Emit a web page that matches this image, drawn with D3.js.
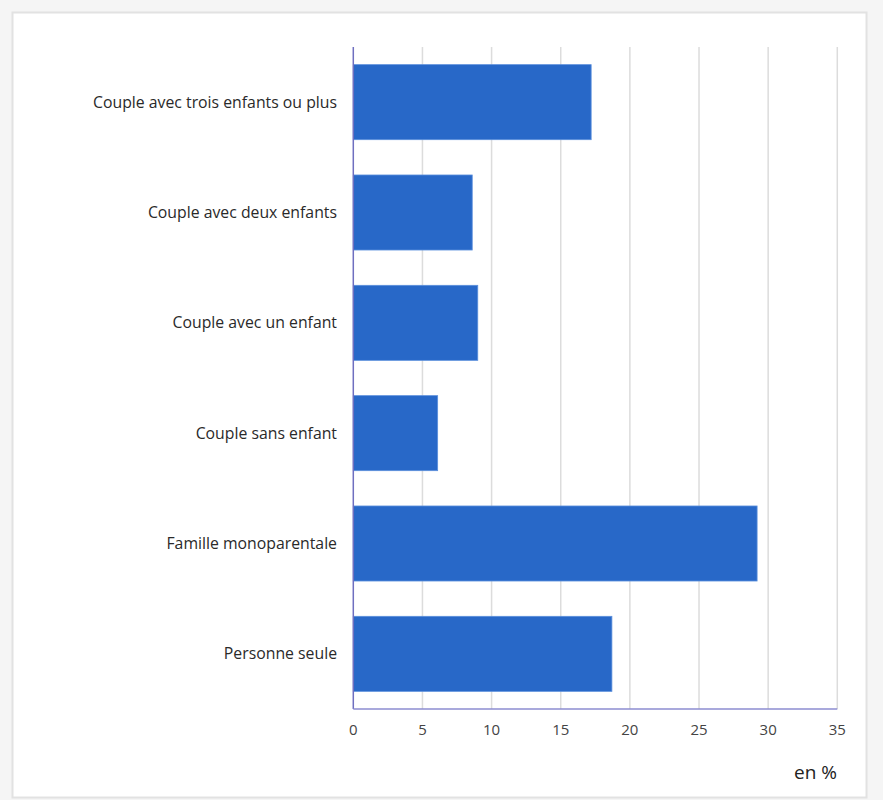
<!DOCTYPE html>
<html>
<head>
<meta charset="utf-8">
<script src="https://cdn.jsdelivr.net/npm/d3@7"></script>
<style>
  html, body { margin: 0; padding: 0; background: #f5f5f5; }
  svg { display: block; }
</style>
</head>
<body>
<script>
// categories, top to bottom
var categories = [
  "Couple avec trois enfants ou plus",
  "Couple avec deux enfants",
  "Couple avec un enfant",
  "Couple sans enfant",
  "Famille monoparentale",
  "Personne seule"
];
// share, in %
var values = [17.2, 8.6, 9.0, 6.1, 29.2, 18.7];
var tickValues = [0, 5, 10, 15, 20, 25, 30, 35];
var unitLabel = "en %";

var W = 883, H = 800;
// plot area (note: "top" is a reserved window prop, so use plot*)
var plotLeft = 353.3, plotRight = 837.3, plotTop = 47, plotBottom = 709;

var svg = d3.select("body").append("svg")
  .attr("width", W)
  .attr("height", H);

// card
svg.append("rect")
  .attr("x", 12.5).attr("y", 12.5)
  .attr("width", 854).attr("height", 785)
  .attr("fill", "#fff")
  .attr("stroke", "#e2e2e2")
  .attr("stroke-width", 2);

var x = d3.scaleLinear().domain([0, 35]).range([plotLeft, plotRight]);
var y = d3.scaleBand().domain(categories).range([plotTop, plotBottom]).paddingInner(0.32).paddingOuter(0.16);

// gridlines
svg.append("g")
  .selectAll("line")
  .data(tickValues.slice(1))
  .enter().append("line")
  .attr("x1", function(d){ return x(d); })
  .attr("x2", function(d){ return x(d); })
  .attr("y1", plotTop)
  .attr("y2", plotBottom)
  .attr("stroke", "#dcdcdc")
  .attr("stroke-width", 1.5);

// bars
svg.append("g")
  .selectAll("rect")
  .data(values)
  .enter().append("rect")
  .attr("x", x(0))
  .attr("y", function(d, i){ return y(categories[i]); })
  .attr("width", function(d){ return x(d) - x(0); })
  .attr("height", y.bandwidth())
  .attr("fill", "#2868c8")
  .attr("stroke", "#5b8fdc")
  .attr("stroke-width", 0.8);

// axis lines
svg.append("line")
  .attr("x1", x(0)).attr("x2", x(0))
  .attr("y1", plotTop).attr("y2", plotBottom)
  .attr("stroke", "#6f6fc0").attr("stroke-width", 1.5);
svg.append("line")
  .attr("x1", x(0)).attr("x2", plotRight)
  .attr("y1", plotBottom).attr("y2", plotBottom)
  .attr("stroke", "#8c8cd0").attr("stroke-width", 1.5);

// category labels
svg.append("g")
  .selectAll("text")
  .data(categories)
  .enter().append("text")
  .attr("x", 337)
  .attr("y", function(d){ return y(d) + y.bandwidth() / 2; })
  .attr("dy", "0.35em")
  .attr("text-anchor", "end")
  .attr("font-family", "Open Sans, sans-serif")
  .attr("font-size", 15.8)
  .attr("fill", "#2a2a2a")
  .text(function(d){ return d; });

// tick labels
svg.append("g")
  .selectAll("text")
  .data(tickValues)
  .enter().append("text")
  .attr("x", function(d){ return x(d); })
  .attr("y", 730)
  .attr("dy", "0.35em")
  .attr("text-anchor", "middle")
  .attr("font-family", "Open Sans, sans-serif")
  .attr("font-size", 15)
  .attr("fill", "#444")
  .text(function(d){ return d; });

svg.append("text")
  .attr("x", 837)
  .attr("y", 772)
  .attr("dy", "0.35em")
  .attr("text-anchor", "end")
  .attr("font-family", "Open Sans, sans-serif")
  .attr("font-size", 19)
  .attr("fill", "#222")
  .text(unitLabel);
</script>
</body>
</html>
